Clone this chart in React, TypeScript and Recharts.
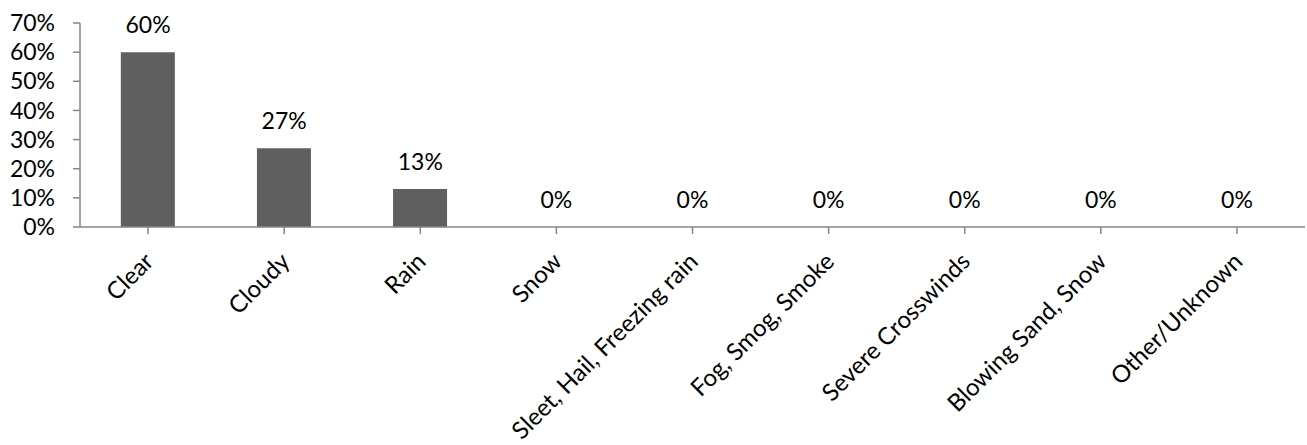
import React from "react";
import { ComposedChart, Bar, Line, XAxis, YAxis, LabelList } from "recharts";

const categories = [
  "Clear",
  "Cloudy",
  "Rain",
  "Snow",
  "Sleet, Hail, Freezing rain",
  "Fog, Smog, Smoke",
  "Severe Crosswinds",
  "Blowing Sand, Snow",
  "Other/Unknown",
];
const shares = [60, 27, 13, 0, 0, 0, 0, 0, 0];
const yTicks = [0, 10, 20, 30, 40, 50, 60, 70];

const data = categories.map((name, i) => ({ name, value: shares[i] }));

const FONT = "Lato, 'Open Sans', sans-serif";
const AXIS_COLOR = "#868686";

const AngledTick = (props: any) => {
  const { x, y, payload } = props;
  return (
    <g transform={`translate(${x + 7},${y + 27})`}>
      <text
        x={0}
        y={0}
        textAnchor="end"
        transform="rotate(-45)"
        fontSize={24}
        fontFamily={FONT}
        fill="#000"
      >
        {payload.value}
      </text>
    </g>
  );
};

export default function App() {
  return (
    <div style={{ position: "absolute", left: 0, top: 0, background: "#fff" }}>
      <ComposedChart
        width={1307}
        height={445}
        data={data}
        margin={{ top: 23, right: 2, bottom: 0, left: 0 }}
        barCategoryGap="30%"
      >
        <YAxis
          width={80}
          domain={[0, 70]}
          ticks={yTicks}
          tickFormatter={(v: number) => `${v}%`}
          stroke={AXIS_COLOR}
          strokeWidth={1.5}
          tickSize={7}
          tickMargin={18}
          tickLine={{ stroke: AXIS_COLOR, strokeWidth: 1.5 }}
          tick={{ fill: "#000", fontSize: 23, fontFamily: FONT }}
          interval={0}
        />
        <XAxis
          dataKey="name"
          height={218}
          stroke={AXIS_COLOR}
          strokeWidth={1.5}
          tickSize={7}
          tickLine={{ stroke: AXIS_COLOR, strokeWidth: 1.5 }}
          interval={0}
          tick={<AngledTick />}
        />
        <Bar dataKey="value" fill="#5f5f5f" isAnimationActive={false} />
        {/* value labels carried by an invisible line so zero shares still get one */}
        <Line
          dataKey="value"
          stroke="none"
          dot={false}
          activeDot={false}
          isAnimationActive={false}
        >
          <LabelList
            dataKey="value"
            position="top"
            offset={19}
            formatter={(v: number) => `${Math.round(v)}%`}
            style={{ fill: "#000", fontSize: 23, fontFamily: FONT }}
          />
        </Line>
      </ComposedChart>
    </div>
  );
}
